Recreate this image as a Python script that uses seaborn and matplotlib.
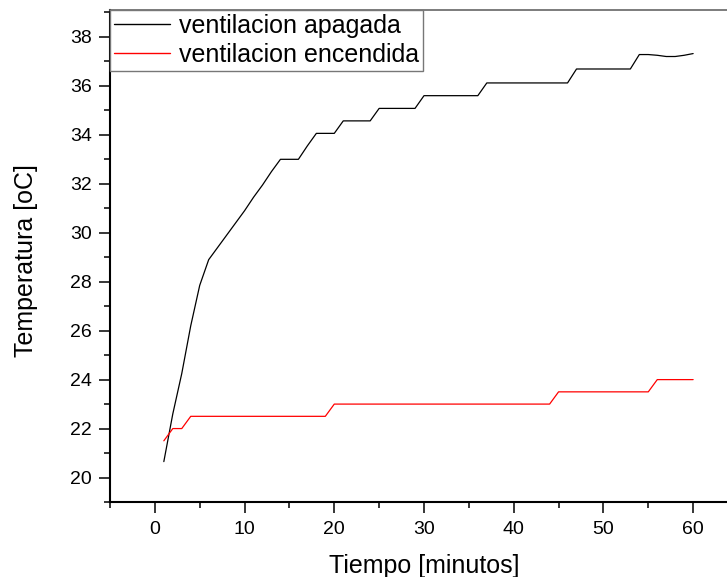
import matplotlib
matplotlib.use("Agg")
import matplotlib.pyplot as plt
from matplotlib.ticker import MultipleLocator
import seaborn as sns
import pandas as pd

# Data
minutes = list(range(1, 61))
temp_apagada = [20.65, 22.6, 24.25, 26.2, 27.85, 28.9, 29.4, 29.9, 30.4, 30.9,
                31.45, 31.95, 32.5, 33.0, 33.0, 33.0, 33.55, 34.06, 34.06, 34.06,
                34.57, 34.57, 34.57, 34.57, 35.08, 35.08, 35.08, 35.08, 35.08, 35.6,
                35.6, 35.6, 35.6, 35.6, 35.6, 35.6, 36.12, 36.12, 36.12, 36.12,
                36.12, 36.12, 36.12, 36.12, 36.12, 36.12, 36.69, 36.69, 36.69, 36.69,
                36.69, 36.69, 36.69, 37.28, 37.28, 37.25, 37.2, 37.2, 37.25, 37.32]
temp_encendida = [21.5, 22.0, 22.0, 22.5, 22.5, 22.5, 22.5, 22.5, 22.5, 22.5,
                  22.5, 22.5, 22.5, 22.5, 22.5, 22.5, 22.5, 22.5, 22.5, 23.0,
                  23.0, 23.0, 23.0, 23.0, 23.0, 23.0, 23.0, 23.0, 23.0, 23.0,
                  23.0, 23.0, 23.0, 23.0, 23.0, 23.0, 23.0, 23.0, 23.0, 23.0,
                  23.0, 23.0, 23.0, 23.0, 23.5, 23.5, 23.5, 23.5, 23.5, 23.5,
                  23.5, 23.5, 23.5, 23.5, 23.5, 24.0, 24.0, 24.0, 24.0, 24.0]
series_names = ["ventilacion apagada", "ventilacion encendida"]
x_ticks = [0, 10, 20, 30, 40, 50, 60]
y_ticks = [20, 22, 24, 26, 28, 30, 32, 34, 36, 38]

sns.set_style("ticks")
plt.rcParams["font.family"] = ["Liberation Sans", "DejaVu Sans"]
plt.rcParams["text.color"] = "black"
plt.rcParams["axes.labelcolor"] = "black"
plt.rcParams["xtick.color"] = "black"
plt.rcParams["ytick.color"] = "black"

df = pd.DataFrame({
    "t": minutes * 2,
    "T": temp_apagada + temp_encendida,
    "serie": [series_names[0]] * len(minutes) + [series_names[1]] * len(minutes),
})

W, H = 727, 577
fig = plt.figure(figsize=(W / 100, H / 100), dpi=100)
left, right, top, bottom = 110, 738, 10, 502
ax = fig.add_axes([left / W, (H - bottom) / H, (right - left) / W, (bottom - top) / H])

sns.lineplot(data=df, x="t", y="T", hue="serie",
             palette={series_names[0]: "black", series_names[1]: "#ff0000"},
             linewidth=0.9, ax=ax, legend=True)

ax.set_xlim(-5, 65)
ax.set_ylim(19, 39.1)
ax.set_xticks(x_ticks)
ax.set_yticks(y_ticks)
ax.xaxis.set_minor_locator(MultipleLocator(5))
ax.yaxis.set_minor_locator(MultipleLocator(1))
ax.tick_params(which="major", length=8, width=1.1, labelsize=14, direction="out",
               color="black", labelcolor="black")
ax.tick_params(which="minor", length=4, width=1.1, direction="out", color="black")
ax.tick_params(axis="x", pad=6)
ax.tick_params(axis="y", pad=5)

for s in ["left", "bottom"]:
    ax.spines[s].set_color("black")
    ax.spines[s].set_linewidth(1.5)
ax.spines["top"].set_visible(True)
ax.spines["top"].set_color("#666666")
ax.spines["top"].set_linewidth(1.2)
ax.spines["right"].set_visible(True)
ax.spines["right"].set_color("#666666")

ax.set_xlabel("Tiempo [minutos]", fontsize=18, labelpad=11, color="black")
ax.set_ylabel("Temperatura [oC]", fontsize=18, color="black")
ax.yaxis.set_label_coords(-0.115, 0.49)

leg = ax.legend(loc="upper left", bbox_to_anchor=(0.0, 1.0), fontsize=18,
                frameon=True, fancybox=False, shadow=False, framealpha=1,
                edgecolor="#777777", borderaxespad=0.0, borderpad=0.15,
                labelspacing=0.2, handlelength=2.25, handletextpad=0.35)
leg.get_frame().set_linewidth(1.0)
for line in leg.get_lines():
    line.set_linewidth(1.0)
for txt in leg.get_texts():
    txt.set_color("black")

fig.savefig("out.png", dpi=100)
